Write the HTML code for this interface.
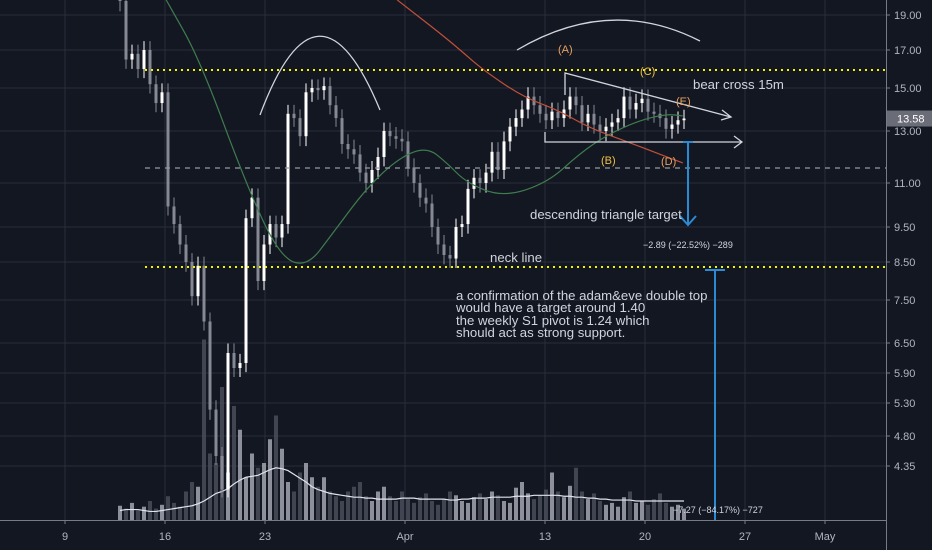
<!DOCTYPE html>
<html><head><meta charset="utf-8"><style>
html,body{margin:0;padding:0;background:#131722;}
svg{display:block;font-family:"Liberation Sans","DejaVu Sans",sans-serif;}
</style></head><body>
<svg id="chart" width="932" height="550" viewBox="0 0 932 550">
<rect x="0" y="0" width="932" height="550" fill="#131722"/>
<g id="grid"></g>
<g id="volume"></g>
<g id="candles"></g>
<g id="mas"></g>
<g id="annot">
  <line x1="145" y1="70" x2="886" y2="70" stroke="#f5f500" stroke-width="2" stroke-dasharray="2,4"/>
  <line x1="145" y1="267" x2="886" y2="267" stroke="#f5f500" stroke-width="2" stroke-dasharray="2,4"/>
  <line x1="145" y1="168" x2="886" y2="168" stroke="#9598a1" stroke-width="1.2" stroke-dasharray="5,5"/>
  <path d="M260 115 Q318 -40 380 110" fill="none" stroke="#d1d4dc" stroke-width="1.3"/>
  <path d="M517 50 Q610 -5 700 41" fill="none" stroke="#d1d4dc" stroke-width="1.3"/>
  <path d="M565 95 L565 73 L731 117 M722 110 L731 117 L721 120" fill="none" stroke="#d1d4dc" stroke-width="1.3"/>
  <path d="M545 132 L545 142 L742 142 M734 136 L742 142 L734 148" fill="none" stroke="#d1d4dc" stroke-width="1.3"/>
  <path d="M683 142 L693 142 M688 142 L688 225 M680 216 L688 225 L696 216" fill="none" stroke="#2a8bd4" stroke-width="2"/>
  <path d="M705 270 L725 270 M715 270 L715 520" fill="none" stroke="#2a8bd4" stroke-width="2"/>
  <g font-size="11" fill="#e8a060">
    <text x="558" y="53">(A)</text>
    <text x="640" y="75" fill="#f0c040">(C)</text>
    <text x="676" y="105">(E)</text>
    <text x="601" y="164" fill="#f0c040">(B)</text>
    <text x="661" y="165">(D)</text>
  </g>
  <g font-size="13.2" fill="#d1d4dc">
    <text x="693" y="89">bear cross 15m</text>
    <text x="530" y="219">descending triangle target</text>
    <text x="490" y="262">neck line</text>
    <text x="456" y="300">a confirmation of the adam&amp;eve double top</text>
    <text x="456" y="312">would have a target around 1.40</text>
    <text x="456" y="325">the weekly S1 pivot is 1.24 which</text>
    <text x="456" y="337">should act as strong support.</text>
  </g>
  <text x="643" y="248" font-size="9" fill="#d1d4dc">−2.89 (−22.52%) −289</text>
  <text x="673" y="513" font-size="9" fill="#d1d4dc">−7.27 (−84.17%) −727</text>
</g>
<g id="axes"></g>
</svg>
<script>
const priceTicks=[19,17,15,13,11,9.5,8.5,7.5,6.5,5.9,5.3,4.8,4.35];
const tickY=[15,50,88,131,183,227,262,300,343,373,403,436,466];
const dateLabels=["9","16","23","Apr","13","20","27","May"];
const dateX=[65,165,265,405,545,645,745,825];
const closes=[19.8,16.5,16.8,16.0,17.0,15.2,14.3,14.8,10.2,9.6,9.0,8.5,7.6,8.4,7.0,5.2,4.5,4.0,6.3,6.0,6.1,9.8,10.5,8.0,9.0,9.6,9.2,9.6,13.8,13.6,12.8,14.8,15.0,14.9,15.1,14.2,13.6,12.5,12.3,12.1,11.4,11.0,11.5,12.0,13.0,12.8,12.7,12.6,11.6,11.0,10.5,10.3,9.5,9.0,8.7,8.6,9.5,9.6,10.8,11.2,11.0,11.4,12.2,11.5,12.6,13.2,13.6,14.0,14.6,14.2,13.8,13.5,13.9,13.6,14.0,14.6,14.2,13.4,13.8,13.3,13.0,13.2,13.4,13.6,14.6,14.0,14.3,14.5,13.9,13.8,13.6,13.1,13.3,13.5,13.58];
const volumes=[15,12,18,10,14,20,12,16,25,18,14,30,40,35,190,70,60,140,50,120,95,45,70,55,60,85,110,75,40,30,50,60,45,35,45,30,25,20,30,35,40,25,20,30,35,25,20,30,22,18,24,28,20,16,22,30,26,20,18,24,28,22,30,26,20,18,34,40,28,22,26,32,50,30,24,36,55,30,22,28,20,16,18,14,24,30,18,20,16,22,28,18,14,16,12];
const volMA=[10,11,11,11,10,9,9,10,11,12,13,14,15,17,20,24,28,30,33,38,42,45,46,47,50,53,55,54,52,48,44,40,35,32,30,28,27,26,25,24,24,23,23,22,22,22,22,23,23,23,22,22,22,22,22,21,21,22,22,23,23,23,24,24,24,24,25,25,25,26,26,26,26,26,25,25,24,24,23,23,22,22,21,21,21,21,20,20,20,20,20,20,20,20,20];
const maGreenIdx=[7.7,13.3,21.2,26.7,31.2,35.5,41.2,46.7,51.2,54.5,57.8,63.8,71.2,76.7,81.2,86.7,91.2,93.8];
const maGreenVal=[19.86,16.5,10.86,8.64,8.37,9.33,10.86,12.0,12.38,11.77,11.0,10.52,11.0,12.15,12.85,13.51,13.79,13.7];
const maRedIdx=[46.2,53.3,56.7,60.5,67.2,72.8,78.3,83.8,89.5,93.8];
const maRedVal=[19.86,17.97,17.0,15.95,14.58,14.0,13.14,12.65,12.15,11.77];

const NS="http://www.w3.org/2000/svg";
function mk(tag,attrs,parent){const e=document.createElementNS(NS,tag);for(const k in attrs)e.setAttribute(k,attrs[k]);parent.appendChild(e);return e;}
function yScale(p){
  if(p>=priceTicks[0]){return tickY[0]-(p-priceTicks[0])*(tickY[1]-tickY[0])/(priceTicks[0]-priceTicks[1]);}
  for(let i=0;i<priceTicks.length-1;i++){
    if(p<=priceTicks[i]&&p>=priceTicks[i+1]){const t=(priceTicks[i]-p)/(priceTicks[i]-priceTicks[i+1]);return tickY[i]+t*(tickY[i+1]-tickY[i]);}
  }
  const n=priceTicks.length-1;return tickY[n]+(priceTicks[n]-p)*(tickY[n]-tickY[n-1])/(priceTicks[n-1]-priceTicks[n]);
}
function xScale(i){return 120+i*6;}
function vScale(v){return 520-v*0.95;}

const grid=document.getElementById('grid');
tickY.forEach((y,i)=>{const l=mk('line',{x1:0,x2:886,y1:y,y2:y,stroke:'#2a2e39','stroke-width':1},grid);

});
dateX.forEach(x=>{const l=mk('line',{x1:x,x2:x,y1:0,y2:520,stroke:'#2a2e39','stroke-width':1},grid);

});

const vol=document.getElementById('volume');
volumes.forEach((v,i)=>{const up=i===0||closes[i]>=closes[i-1];const y=vScale(v);
const r=mk('rect',{x:xScale(i)-2,y:y,width:4,height:520-y,fill:up?'#a3a6af':'#4a4e5a','fill-opacity':0.85},vol);

});
let vp='';volMA.forEach((v,i)=>{vp+=(i?'L':'M')+xScale(i)+' '+vScale(v)+' ';});
const vm=mk('path',{d:vp,fill:'none',stroke:'#e0e3eb','stroke-width':1.2},vol);



const cg=document.getElementById('candles');
closes.forEach((c,i)=>{const o=i?closes[i-1]:c*1.01;const up=c>=o;const col=up?'#ffffff':'#868993';
const hi=Math.max(o,c)*1.03,lo=Math.min(o,c)*0.97;const x=xScale(i);
const w=mk('line',{x1:x,x2:x,y1:yScale(hi),y2:yScale(lo),stroke:col,'stroke-width':1},cg);


const yt=yScale(Math.max(o,c)),yb=yScale(Math.min(o,c));
const b=mk('rect',{x:x-1.5,y:yt,width:3,height:Math.max(1,yb-yt),fill:col},cg);

});

const mg=document.getElementById('mas');
function line(idx,val,color,name){
  const pts=idx.map((ix,k)=>[xScale(ix),yScale(val[k])]);
  let d='M'+pts[0][0]+' '+pts[0][1];
  for(let k=1;k<pts.length;k++){const p0=pts[k-1],p1=pts[k];const mx=(p0[0]+p1[0])/2,my=(p0[1]+p1[1])/2;
    d+=' Q'+p0[0]+' '+p0[1]+' '+mx+' '+my;}
  d+=' L'+pts[pts.length-1][0]+' '+pts[pts.length-1][1];
  const p=mk('path',{d:d,fill:'none',stroke:color,'stroke-width':1.2},mg);
  
  }
line(maGreenIdx,maGreenVal,'#3f7d4f','ma-green-line');
line(maRedIdx,maRedVal,'#c0503a','ma-red-line');

const ax=document.getElementById('axes');
const a1=mk('line',{x1:886.5,x2:886.5,y1:0,y2:550,stroke:'#787b86','stroke-width':1},ax);


const a2=mk('line',{x1:0,x2:886,y1:520.5,y2:520.5,stroke:'#787b86','stroke-width':1},ax);


priceTicks.forEach((p,i)=>{const tk=mk('line',{x1:886,x2:890,y1:tickY[i],y2:tickY[i],stroke:'#787b86'},ax);


const t=mk('text',{x:894,y:tickY[i]+4,'font-size':11,fill:'#b2b5be'},ax);t.textContent=p.toFixed(2);

});
dateLabels.forEach((d,i)=>{const tk=mk('line',{x1:dateX[i],x2:dateX[i],y1:520,y2:524,stroke:'#787b86'},ax);


const t=mk('text',{x:dateX[i],y:540,'font-size':11,fill:'#b2b5be','text-anchor':'middle'},ax);t.textContent=d;

});
const last=closes[closes.length-1];const ly=yScale(last);
const lb=mk('rect',{x:887,y:ly-8,width:45,height:16,fill:'#6a6d78'},ax);


const lt=mk('text',{x:897,y:ly+4,'font-size':11,fill:'#ffffff'},ax);lt.textContent=last.toFixed(2);


</script>
</body></html>
